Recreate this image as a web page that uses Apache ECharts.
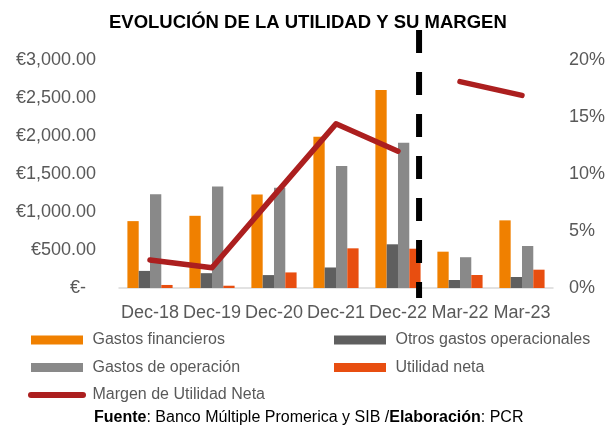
<!DOCTYPE html>
<html>
<head>
<meta charset="utf-8">
<script src="https://cdn.jsdelivr.net/npm/echarts@6/dist/echarts.min.js"></script>
<style>
  html, body { margin: 0; padding: 0; background: #fff; }
  #utilidadChart { width: 608px; height: 428px; }
</style>
</head>
<body>
<div id="utilidadChart"></div>
<script>
// periodos
const categorias = ['Dec-18', 'Dec-19', 'Dec-20', 'Dec-21', 'Dec-22', 'Mar-22', 'Mar-23']
// montos (€)
const gastosFinancieros = [880, 950, 1230, 1990, 2605, 478, 890]
const otrosGastosOperacionales = [225, 195, 170, 270, 575, 105, 145]
const gastosOperacion = [1235, 1335, 1320, 1605, 1910, 405, 553]
const utilidadNeta = [40, 30, 205, 522, 517, 171, 241]
// margen (%)
const margenUtilidad = [2.46, 1.78, 8.1, 14.4, 12.0, 18.1, 16.9]

const fuente = 'Liberation Sans, Arial, sans-serif'
const gris = '#595959'

// la linea se corta entre Dec-22 y Mar-22
const margenAnual = margenUtilidad.map((v, i) => (i <= 4 ? v : null))
const margenTrim = margenUtilidad.map((v, i) => (i >= 5 ? v : null))

function barra (name, data, color) {
  return {
    name: name,
    type: 'bar',
    data: data,
    barWidth: 11.3,
    barGap: 0,
    itemStyle: { color: color }
  }
}

function linea (data) {
  return {
    name: 'Margen de Utilidad Neta',
    type: 'line',
    yAxisIndex: 1,
    data: data,
    symbol: 'none',
    lineStyle: { color: '#AC1F1F', width: 5.5, cap: 'round', join: 'round' },
    itemStyle: { color: '#AC1F1F' },
    z: 5
  }
}

const leyendaBase = {
  orient: 'vertical',
  itemWidth: 52,
  itemHeight: 9,
  itemGap: 11.5,
  formatter: name => ' ' + name,
  textStyle: { fontFamily: fuente, fontSize: 16, color: gris, lineHeight: 16 }
}

const option = {
  animation: false,
  textStyle: { fontFamily: fuente },
  title: [
    {
      text: 'EVOLUCIÓN DE LA UTILIDAD Y SU MARGEN',
      left: 104,
      top: 8,
      textStyle: { fontFamily: fuente, fontSize: 18.5, fontWeight: 'bold', color: '#000' }
    },
    {
      text: '{b|Fuente}: Banco Múltiple Promerica y SIB /{b|Elaboración}: PCR',
      left: 89,
      top: 405,
      textStyle: {
        fontFamily: fuente,
        fontSize: 16,
        fontWeight: 'normal',
        color: '#000',
        rich: { b: { fontFamily: fuente, fontSize: 16, fontWeight: 'bold', color: '#000' } }
      }
    }
  ],
  legend: [
    Object.assign({}, leyendaBase, {
      left: 23,
      top: 327,
      data: [
        { name: 'Gastos financieros', icon: 'rect' },
        { name: 'Gastos de operación', icon: 'rect' },
        {
          name: 'Margen de Utilidad Neta',
          itemStyle: { opacity: 0 },
          lineStyle: { width: 6, cap: 'round' }
        }
      ]
    }),
    Object.assign({}, leyendaBase, {
      left: 329,
      top: 327,
      data: [
        { name: 'Otros gastos operacionales', icon: 'rect' },
        { name: 'Utilidad neta', icon: 'rect' }
      ]
    })
  ],
  grid: {
    left: 119,
    right: 55,
    top: 60,
    bottom: 140
  },
  xAxis: {
    type: 'category',
    data: categorias,
    axisTick: { show: false },
    axisLine: { lineStyle: { color: '#D9D9D9', width: 1.5 } },
    axisLabel: { interval: 0, fontSize: 18, color: gris, margin: 16 }
  },
  yAxis: [
    {
      type: 'value',
      min: 0,
      max: 3000,
      interval: 500,
      splitLine: { show: false },
      axisLabel: {
        fontSize: 18,
        color: gris,
        margin: 23,
        formatter: v => (v === 0 ? '€-  ' : '€' + v.toLocaleString('en-US', { minimumFractionDigits: 2 }))
      }
    },
    {
      type: 'value',
      min: 0,
      max: 20,
      interval: 5,
      splitLine: { show: false },
      axisLabel: { fontSize: 18, color: gris, margin: 16, formatter: '{value}%' }
    }
  ],
  series: [
    barra('Gastos financieros', gastosFinancieros, '#F08000'),
    barra('Otros gastos operacionales', otrosGastosOperacionales, '#5F5F5F'),
    barra('Gastos de operación', gastosOperacion, '#898989'),
    barra('Utilidad neta', utilidadNeta, '#E84E10'),
    linea(margenAnual),
    linea(margenTrim)
  ]
}

const chart = echarts.init(document.getElementById('utilidadChart'))
chart.setOption(option)

// separador vertical entre el cierre anual y los trimestres
const x4 = chart.convertToPixel({ xAxisIndex: 0 }, categorias[4])
const x5 = chart.convertToPixel({ xAxisIndex: 0 }, categorias[5])
const xSep = x4 + (x5 - x4) * 0.34
chart.setOption({
  graphic: [{
    type: 'line',
    z: 100,
    shape: { x1: xSep, y1: 30, x2: xSep, y2: 298 },
    style: { stroke: '#000', lineWidth: 6, lineDash: [23, 19] }
  }]
})
</script>
</body>
</html>
